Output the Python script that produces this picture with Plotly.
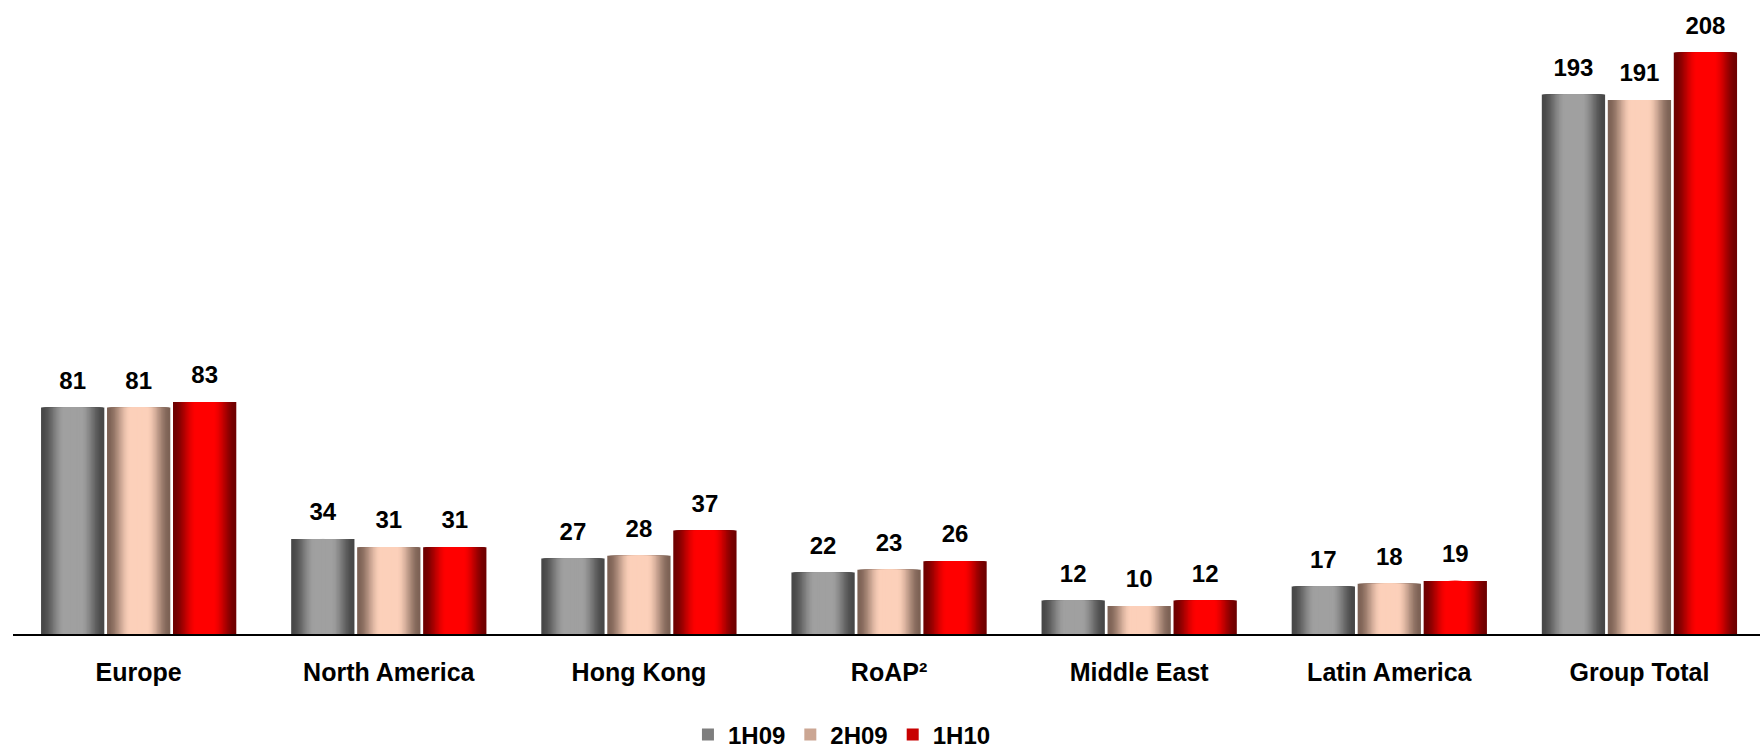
import plotly.graph_objects as go

# Regional figures by half-year
categories = ["Europe", "North America", "Hong Kong", "RoAP\u00b2",
              "Middle East", "Latin America", "Group Total"]
series_names = ["1H09", "2H09", "1H10"]
values_1h09 = [81, 34, 27, 22, 12, 17, 193]
values_2h09 = [81, 31, 28, 23, 10, 18, 191]
values_1h10 = [83, 31, 37, 26, 12, 19, 208]

# (edge colour, centre colour) for the cylinder-style shading of each series
shades = [((72, 72, 72), (160, 160, 160)),
          ((125, 98, 85), (252, 208, 186)),
          ((112, 0, 0), (255, 0, 0))]

FONT = "Liberation Sans, Arial, sans-serif"
BAR_W = 0.253     # bar width in category units
PITCH = 0.2638    # distance between neighbouring bars in a group
LAYERS = 24       # number of nested bars used to fake the horizontal gradient
LEGEND_LAYER = 10 # layer whose colour represents the series in the legend

all_values = [values_1h09, values_2h09, values_1h10]
x_idx = list(range(len(categories)))


def mix(c0, c1, f):
    return "rgb({},{},{})".format(*[round(a + (b - a) * f) for a, b in zip(c0, c1)])


def lighting(frac):
    # frac = 1 at the bar edge, 0 at its centre line
    t = min(1.0, (1 - frac) / 0.72)
    return t * t * (3 - 2 * t)


fig = go.Figure()

for j, (name, vals) in enumerate(zip(series_names, all_values)):
    edge, centre = shades[j]
    centre_off = (j - 1) * PITCH
    for k in range(LAYERS):
        frac = 1 - k / LAYERS
        w = BAR_W * frac
        fig.add_trace(go.Bar(
            x=x_idx, y=vals, name=name,
            width=w, offset=centre_off - w / 2,
            marker=dict(color=mix(edge, centre, lighting(frac)), line=dict(width=0)),
            legendgroup=name,
            showlegend=(k == LEGEND_LAYER),
            hoverinfo="skip" if k else "y",
        ))

# value labels above each bar
for j, vals in enumerate(all_values):
    fig.add_trace(go.Scatter(
        x=[i + (j - 1) * PITCH for i in x_idx], y=vals,
        mode="markers+text", text=[str(v) for v in vals],
        textposition="top center",
        marker=dict(size=19, color="rgba(0,0,0,0)"),
        textfont=dict(family=FONT, size=24, color="black", weight="bold"),
        showlegend=False, hoverinfo="skip", cliponaxis=False,
    ))

fig.update_layout(
    width=1760, height=748,
    barmode="overlay",
    plot_bgcolor="white", paper_bgcolor="white",
    margin=dict(l=13, r=0, t=0, b=114, autoexpand=False),
    font=dict(family=FONT, color="black"),
    legend=dict(
        orientation="h", x=0.4745, xanchor="center", y=-0.159, yanchor="middle",
        font=dict(family=FONT, size=24, color="black", weight="bold"),
        traceorder="normal", itemclick=False,
    ),
    xaxis=dict(
        range=[-0.5024, 6.482], tickmode="array", tickvals=x_idx, ticktext=categories,
        showline=True, linecolor="black", linewidth=2, showgrid=False,
        zeroline=False, ticks="", ticklabelstandoff=15,
        tickfont=dict(family=FONT, size=25, color="black", weight="bold"),
    ),
    yaxis=dict(range=[0, 226.8], visible=False, showgrid=False, zeroline=False),
    showlegend=True,
)

fig.write_html("out.html")
